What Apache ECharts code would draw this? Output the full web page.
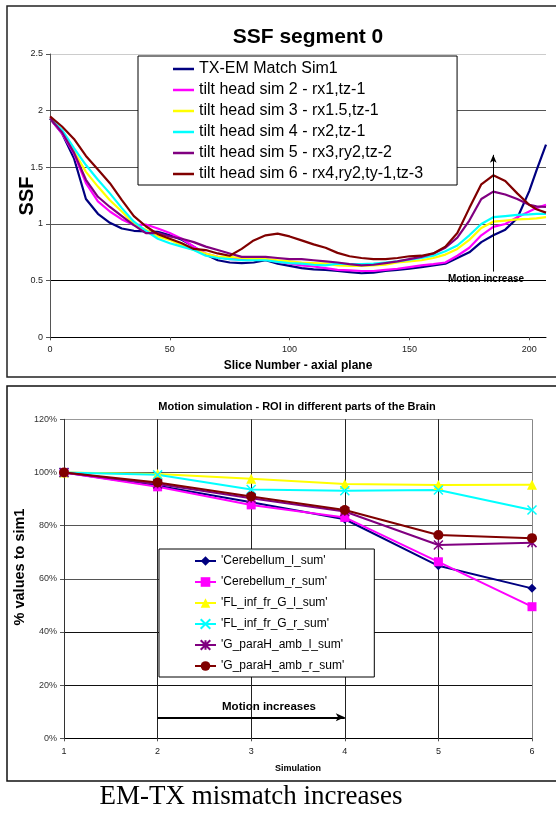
<!DOCTYPE html>
<html>
<head>
<meta charset="utf-8">
<script src="https://cdn.jsdelivr.net/npm/echarts@6/dist/echarts.min.js"></script>
<style>
html,body{margin:0;padding:0;background:#fff;}
#chart{width:556px;height:813px;}
</style>
</head>
<body>
<div id="chart"></div>
<script>
// ---------- Top chart data (SSF segment 0) ----------
const slices = [0,5,10,15,20,25,30,35,40,45,50,55,60,65,70,75,80,85,90,95,100,105,110,115,120,125,130,135,140,145,150,155,160,165,170,175,180,185,190,195,200,203,207];
const topNames = ['TX-EM Match Sim1','tilt head sim 2 - rx1,tz-1','tilt head sim 3 - rx1.5,tz-1','tilt head sim 4 - rx2,tz-1','tilt head sim 5 - rx3,ry2,tz-2','tilt head sim 6 - rx4,ry2,ty-1,tz-3'];
const sim1 = [1.93,1.80,1.58,1.22,1.09,1.01,0.96,0.94,0.935,0.93, 0.90,0.86,0.80,0.73,0.68,0.66,0.655,0.66,0.68,0.65, 0.63,0.61,0.60,0.595,0.585,0.575,0.565,0.57,0.585,0.595, 0.605,0.62,0.635,0.65,0.70,0.75,0.84,0.90,0.95,1.05, 1.29,1.47,1.70];
const sim2 = [1.93,1.80,1.62,1.36,1.20,1.11,1.04,0.99,0.995,0.96, 0.92,0.87,0.80,0.74,0.71,0.69,0.69,0.69,0.69,0.665, 0.65,0.635,0.625,0.61,0.595,0.59,0.585,0.585,0.595,0.605, 0.62,0.635,0.645,0.66,0.72,0.79,0.90,0.975,1.0,1.06, 1.11,1.14,1.17];
const sim3 = [1.93,1.82,1.64,1.46,1.33,1.21,1.11,1.00,0.95,0.89, 0.86,0.81,0.77,0.74,0.71,0.71,0.70,0.69,0.69,0.68, 0.67,0.66,0.655,0.65,0.635,0.63,0.63,0.635,0.64,0.66, 0.67,0.68,0.70,0.73,0.78,0.86,0.965,1.02,1.03,1.04, 1.045,1.05,1.06];
const sim4 = [1.93,1.83,1.67,1.52,1.39,1.27,1.14,1.02,0.94,0.87, 0.83,0.80,0.77,0.72,0.70,0.69,0.68,0.68,0.68,0.665, 0.655,0.65,0.64,0.635,0.65,0.645,0.645,0.65,0.66,0.67, 0.685,0.70,0.72,0.76,0.81,0.90,1.00,1.06,1.07,1.08, 1.085,1.09,1.09];
const sim5 = [1.93,1.81,1.63,1.39,1.24,1.15,1.07,0.99,0.92,0.92, 0.89,0.87,0.84,0.80,0.77,0.74,0.71,0.71,0.71,0.70, 0.69,0.69,0.68,0.67,0.66,0.645,0.635,0.64,0.655,0.67, 0.69,0.71,0.74,0.79,0.88,1.03,1.22,1.285,1.26,1.22, 1.17,1.155,1.15];
const sim6 = [1.95,1.86,1.75,1.60,1.48,1.36,1.21,1.07,0.98,0.91, 0.87,0.83,0.78,0.77,0.74,0.72,0.78,0.855,0.90,0.915, 0.89,0.855,0.82,0.79,0.745,0.715,0.70,0.69,0.69,0.70, 0.715,0.72,0.74,0.80,0.92,1.14,1.35,1.43,1.38,1.27, 1.17,1.13,1.10];
const topColors = ['#000080','#FF00FF','#FFFF00','#00FFFF','#800080','#800000'];

// ---------- Bottom chart data (% values to sim1) ----------
const simulations = ['1','2','3','4','5','6'];
const roiNames = ["'Cerebellum_l_sum'","'Cerebellum_r_sum'","'FL_inf_fr_G_l_sum'","'FL_inf_fr_G_r_sum'","'G_paraH_amb_l_sum'","'G_paraH_amb_r_sum'"];
const cerebellumL = [100,95.0,88.8,82.4,64.9,56.4];
const cerebellumR = [100,94.6,87.8,83.1,66.4,49.5];
const flInfL = [100,99.4,97.6,95.7,95.3,95.4];
const flInfR = [100,99.1,93.6,93.1,93.4,85.9];
const gParaL = [100,95.7,90.3,85.3,72.7,73.6];
const gParaR = [100,96.2,91.0,85.9,76.5,75.3];
const roiColors = ['#000080','#FF00FF','#FFFF00','#00FFFF','#800080','#800000'];

const FONT = '"Liberation Sans", Arial, sans-serif';
const chart = echarts.init(document.getElementById('chart'), null, {renderer:'canvas'});

const topSeriesData = [sim1,sim2,sim3,sim4,sim5,sim6];
const topSeries = topSeriesData.map((arr,k)=>({
  name: topNames[k], type:'line', xAxisIndex:0, yAxisIndex:0,
  data: slices.map((s,i)=>[s,arr[i]]),
  symbol:'none', smooth:false,
  lineStyle:{color:topColors[k], width:2.2},
  itemStyle:{color:topColors[k]},
  z: 3
}));
topSeries[0].markLine = {
  silent:true, symbol:['none','arrow'], symbolSize:[5,8],
  label:{show:false},
  lineStyle:{color:'#000', width:1, type:'solid'},
  data:[[{coord:[185,0.58]},{coord:[185,1.61]}]]
};

const roiData = [cerebellumL,cerebellumR,flInfL,flInfR,gParaL,gParaR];
const roiSymbols = ['diamond','rect','triangle','path://M0,0L10,10M10,0L0,10','path://M5,0L5,10M0,0L10,10M10,0L0,10','circle'];
const roiSizes = [9,9,10,9,9,10];
const bottomSeries = roiData.map((arr,k)=>{
  const s = {
    name: roiNames[k], type:'line', xAxisIndex:1, yAxisIndex:1,
    data: arr, symbol: roiSymbols[k], symbolSize: roiSizes[k], showSymbol:true,
    lineStyle:{color:roiColors[k], width:2},
    itemStyle:{color:roiColors[k]},
    z: 3
  };
  if (k===3 || k===4) s.itemStyle = {color:roiColors[k], borderColor:roiColors[k], borderWidth:1.5};
  return s;
});
bottomSeries[0].markLine = {
  silent:true, symbol:['none','arrow'], symbolSize:[6,9],
  label:{show:false},
  lineStyle:{color:'#000', width:2, type:'solid'},
  data:[[{coord:[1.357,7.9]},{coord:[3.387,7.9]}]]
};

const option = {
  animation:false,
  backgroundColor:'#fff',
  textStyle:{fontFamily:FONT},
  grid:[
    {left:50, right:10, top:54, height:283.3, containLabel:false},
    {left:64, right:24, top:419.3, height:319, containLabel:false}
  ],
  xAxis:[
    {type:'value', gridIndex:0, min:0, max:207, interval:50,
     axisLine:{lineStyle:{color:'#000', width:1}},
     axisTick:{show:true, length:3, lineStyle:{color:'#555'}},
     axisLabel:{fontSize:9, color:'#222', margin:8, showMaxLabel:false,
       formatter:v=> (v%50===0 ? String(v) : '')},
     splitLine:{show:false}},
    {type:'category', gridIndex:1, data:simulations, boundaryGap:false,
     axisLine:{lineStyle:{color:'#000', width:1}},
     axisTick:{show:true, length:3, alignWithLabel:true, lineStyle:{color:'#555'}},
     axisLabel:{fontSize:9, color:'#222', margin:9},
     splitLine:{show:true, lineStyle:{color:['#000','#222','#222','#222','#222','#888'], width:1}}}
  ],
  yAxis:[
    {type:'value', gridIndex:0, min:0, max:2.5, interval:0.5,
     axisLine:{show:true, lineStyle:{color:'#555', width:1}},
     axisTick:{show:true, length:4, lineStyle:{color:'#555'}},
     axisLabel:{fontSize:9, color:'#222', margin:7},
     splitLine:{show:true, lineStyle:{color:['#000','#000','#555','#555','#555','#ccc'], width:1}}},
    {type:'value', gridIndex:1, min:0, max:120, interval:20,
     axisLine:{show:true, lineStyle:{color:'#333', width:1}},
     axisTick:{show:true, length:4, lineStyle:{color:'#555'}},
     axisLabel:{fontSize:9, color:'#333', margin:7, formatter:'{value}%'},
     splitLine:{show:true, lineStyle:{color:['#000','#111','#111','#555','#555','#555','#999'], width:1}}}
  ],
  legend:[
    {data:topNames, orient:'vertical', left:138, top:56, icon:'rect',
     padding:[5,34,3,35], itemWidth:21, itemHeight:2.5, itemGap:5,
     backgroundColor:'#fff', borderColor:'#000', borderWidth:1,
     selectedMode:false,
     textStyle:{fontSize:16, color:'#000', lineHeight:15, fontFamily:FONT}},
    {data:roiNames, orient:'vertical', left:159, top:549,
     padding:[6,30,5,35], itemWidth:21, itemHeight:12, itemGap:9,
     backgroundColor:'#fff', borderColor:'#000', borderWidth:1,
     selectedMode:false,
     textStyle:{fontSize:12, color:'#000', lineHeight:12, fontFamily:FONT}}
  ],
  series: topSeries.concat(bottomSeries),
  graphic:[
    {type:'rect', z:-1, shape:{x:7, y:6, width:560, height:371}, style:{fill:null, stroke:'#222', lineWidth:1.5}},
    {type:'rect', z:-1, shape:{x:7, y:386, width:560, height:395}, style:{fill:null, stroke:'#111', lineWidth:1.5}},
    {type:'text', x:308, y:37, style:{text:'SSF segment 0', font:'bold 21px '+FONT, fill:'#000', textAlign:'center', textVerticalAlign:'middle'}},
    {type:'text', x:27, y:196, rotation:Math.PI/2, style:{text:'SSF', font:'bold 20px '+FONT, fill:'#000', textAlign:'center', textVerticalAlign:'middle'}},
    {type:'text', x:298, y:366, style:{text:'Slice Number - axial plane', font:'bold 12px '+FONT, fill:'#000', textAlign:'center', textVerticalAlign:'middle'}},
    {type:'text', x:486, y:279, z:10, style:{text:'Motion increase', font:'bold 10px '+FONT, fill:'#000', textAlign:'center', textVerticalAlign:'middle'}},
    {type:'text', x:297, y:407, style:{text:'Motion simulation - ROI in different parts of the Brain', font:'bold 11px '+FONT, fill:'#000', textAlign:'center', textVerticalAlign:'middle'}},
    {type:'text', x:20, y:567, rotation:Math.PI/2, style:{text:'% values to sim1', font:'bold 14.5px '+FONT, fill:'#000', textAlign:'center', textVerticalAlign:'middle'}},
    {type:'text', x:298, y:769, style:{text:'Simulation', font:'bold 9px '+FONT, fill:'#000', textAlign:'center', textVerticalAlign:'middle'}},
    {type:'text', x:269, y:706.7, z:10, style:{text:'Motion increases', font:'bold 11.5px '+FONT, fill:'#000', textAlign:'center', textVerticalAlign:'middle'}},
    {type:'text', x:251, y:797, style:{text:'EM-TX mismatch increases', font:'27px "Liberation Serif", "Times New Roman", serif', fill:'#000', textAlign:'center', textVerticalAlign:'middle'}}
  ]
};
chart.setOption(option);
</script>
</body>
</html>
